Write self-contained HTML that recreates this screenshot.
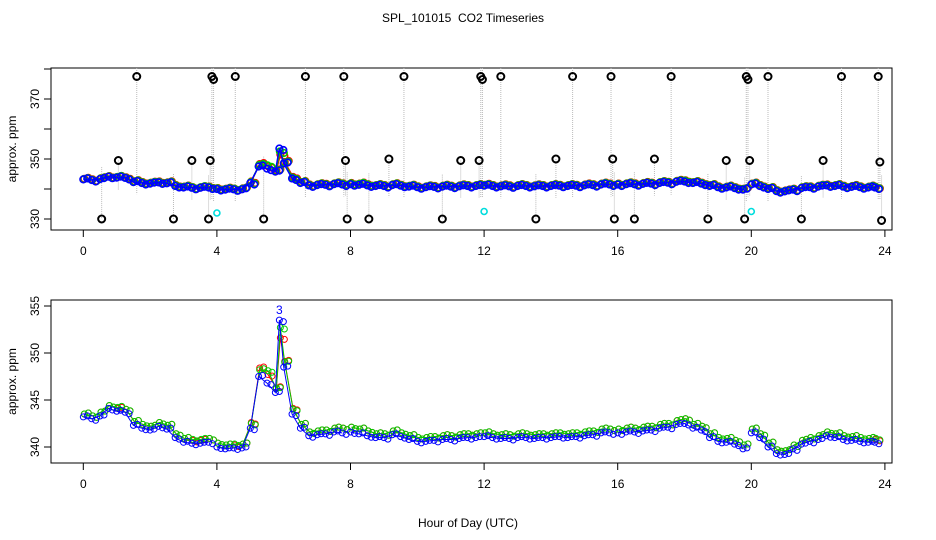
<!DOCTYPE html>
<html><head><meta charset="utf-8"><style>
body{margin:0;background:#fff}
svg{display:block;font-family:"Liberation Sans",sans-serif}
</style></head><body>
<svg id="c" width="936" height="540" viewBox="0 0 936 540">
<text x="463" y="22" font-size="12" text-anchor="middle">SPL_101015&#160; CO2 Timeseries</text>
<text x="468" y="527" font-size="12" text-anchor="middle">Hour of Day (UTC)</text>
<g id="top"></g>
<g id="bot"></g>
</svg>
<script>
const hours = [0,0.25,0.5,0.75,1,1.25,1.5,1.75,2,2.25,2.5,2.75,3,3.25,3.5,3.75,null,4,4.25,4.5,4.75,5,5.25,5.5,5.75,5.87,6,6.25,6.5,6.75,7,7.25,7.5,7.75,null,8,8.25,8.5,8.75,9,9.25,9.5,9.75,10,10.25,10.5,10.75,11,11.25,11.5,11.75,null,12,12.25,12.5,12.75,13,13.25,13.5,13.75,14,14.25,14.5,14.75,15,15.25,15.5,15.75,null,16,16.25,16.5,16.75,17,17.25,17.5,17.75,18,18.25,18.5,18.75,19,19.25,19.5,19.75,null,20,20.25,20.5,20.75,21,21.25,21.5,21.75,22,22.25,22.5,22.75,23,23.25,23.5,23.7];
const blue = [343.2,343.0,343.3,344.1,343.8,343.7,342.3,342.0,341.8,342.2,341.9,341.0,340.5,340.4,340.4,340.5,null,340.0,339.8,339.9,339.9,342.0,347.5,346.8,345.8,353.5,348.5,343.5,342.0,341.2,341.3,341.4,341.6,341.5,null,341.6,341.4,341.2,341.0,341.0,341.3,341.1,340.8,340.6,340.6,340.7,340.8,340.8,340.9,341.0,341.0,null,341.1,341.0,340.9,340.9,341.0,341.0,340.9,341.0,341.0,341.1,341.0,341.1,341.2,341.3,341.5,341.5,null,341.5,341.6,341.6,341.7,341.8,342.0,342.1,342.4,342.5,342.0,341.8,341.0,340.6,340.5,340.3,339.8,null,341.5,341.0,340.0,339.3,339.2,339.8,340.3,340.6,340.8,341.2,341.0,340.8,340.7,340.6,340.5,340.5];
const red = [343.4,343.2,343.6,344.3,344.0,343.9,342.6,342.3,342.1,342.5,342.2,341.3,340.8,340.6,340.6,340.8,null,340.3,340.1,340.1,340.2,342.5,348.3,347.6,346.2,351.5,349.0,344.0,342.3,341.5,341.6,341.7,341.9,341.9,null,342.0,341.8,341.6,341.3,341.3,341.6,341.4,341.1,340.9,340.9,341.0,341.1,341.1,341.2,341.3,341.3,null,341.4,341.3,341.2,341.2,341.3,341.3,341.2,341.3,341.3,341.4,341.3,341.4,341.5,341.6,341.8,341.8,null,341.8,341.9,341.9,342.0,342.1,342.3,342.4,342.7,342.9,342.3,342.1,341.3,340.9,340.8,340.6,340.1,null,341.8,341.3,340.3,339.6,339.5,340.1,340.6,340.9,341.1,341.5,341.3,341.1,341.0,340.9,340.8,340.7];
const green = [343.3,343.1,343.5,344.2,344.0,343.8,342.5,342.2,342.0,342.4,342.1,341.2,340.7,340.6,340.6,340.7,null,340.2,340.0,340.1,340.1,342.3,348.0,347.9,346.0,352.5,348.8,343.8,342.2,341.4,341.5,341.6,341.8,341.8,null,341.9,341.7,341.5,341.2,341.2,341.5,341.3,341.0,340.8,340.8,340.9,341.0,341.0,341.1,341.2,341.2,null,341.3,341.2,341.1,341.1,341.2,341.2,341.1,341.2,341.2,341.3,341.2,341.3,341.4,341.5,341.7,341.7,null,341.7,341.8,341.8,341.9,342.0,342.2,342.3,342.6,342.8,342.2,342.0,341.2,340.8,340.7,340.5,340.0,null,341.7,341.2,340.2,339.5,339.4,340.0,340.5,340.8,341.0,341.4,341.2,341.0,340.9,340.8,340.7,340.7];
const outlierHours = [0.55,1.05,1.6,2.7,3.25,3.75,3.8,3.85,3.9,4.55,5.4,6.65,7.8,7.85,7.9,8.55,9.15,9.6,10.75,11.3,11.85,11.9,11.95,12.5,13.55,14.15,14.65,15.8,15.85,15.9,16.5,17.1,17.6,18.7,19.25,19.8,19.85,19.9,19.95,20.5,21.5,22.15,22.7,23.8,23.85,23.9];
const outlierVals = [330,349.5,377.5,330,349.5,330,349.5,377.5,376.5,377.5,330,377.5,377.5,349.5,330,330,350,377.5,330,349.5,349.5,377.5,376.5,377.5,330,350,377.5,377.5,350,330,330,350,377.5,330,349.5,330,377.5,376.5,349.5,377.5,330,349.5,377.5,377.5,349,329.5];
const calHours = [4.0,12.0,20.0];
const calVals = [332,332.5,332.5];
const xTicks = [0,4,8,12,16,20,24];
const topTicks = [330,340,350,360,370,380];
const topLabels = [330,350,370];
const botTicks = [340,345,350,355];

const NS="http://www.w3.org/2000/svg";
function mk(p,t,a){const e=document.createElementNS(NS,t);for(const k in a)e.setAttribute(k,a[k]);p.appendChild(e);return e;}
const L=51,R=892;
const xs=h=>83.3+h*33.4;
const yTop=v=>219-(v-330)*3;
const yBot=v=>447-(v-340)*9.4;

function axes(g,top,bot,ticks,labels,ys,nm){
  let e=mk(g,'rect',{x:L,y:top,width:R-L,height:bot-top,fill:'none',stroke:'#000'});
  
  xTicks.forEach(h=>{
    mk(g,'line',{x1:xs(h),x2:xs(h),y1:bot,y2:bot+7,stroke:'#000'});
    let t=mk(g,'text',{x:xs(h),y:bot+25,'font-size':12,'text-anchor':'middle'});t.textContent=h;
    
  });
  ticks.forEach(v=>{mk(g,'line',{x1:L-7,x2:L,y1:ys(v),y2:ys(v),stroke:'#000'});});
  labels.forEach(v=>{
    let t=mk(g,'text',{x:0,y:0,'font-size':12,'text-anchor':'middle',transform:`translate(${L-12},${ys(v)}) rotate(-90)`});t.textContent=v;
    
  });
  let yt=mk(g,'text',{x:0,y:0,'font-size':12,'text-anchor':'middle',transform:`translate(16,${(top+bot)/2}) rotate(-90)`});yt.textContent='approx. ppm';
  
}
const tg=document.getElementById('top'),bg=document.getElementById('bot');
axes(tg,68,230,topTicks,topLabels,yTop,'top');
axes(bg,300,463,botTicks,botTicks,yBot,'bottom');

const clipT=mk(tg,'clipPath',{id:'ct'});mk(clipT,'rect',{x:L,y:68,width:R-L,height:162});
const tgc=mk(tg,'g',{'clip-path':'url(#ct)'});
function baseAt(h){let bi=0,bd=1e9;hours.forEach((x,i)=>{if(x!==null&&Math.abs(x-h)<bd){bd=Math.abs(x-h);bi=i;}});return blue[bi];}
outlierHours.forEach((h,i)=>{
  const v=outlierVals[i],b=baseAt(h);
  const y1=v>370?60:yTop(Math.max(v,b+4)),y2=yTop(Math.min(v,b-4));
  let l=mk(tgc,'line',{x1:xs(h),x2:xs(h),y1:y1,y2:y2,stroke:'#bbb','stroke-dasharray':'1,1'});
  
});
function series(g,vals,ys,col,r,dx,dy,nm,lw,cw,dbl){
  let d='',pen=false;
  hours.forEach((h,i)=>{if(h===null||vals[i]===null){pen=false;return;}d+=(pen?'L':'M')+(xs(h)+dx)+','+(ys(vals[i])+dy);pen=true;});
  let p=mk(g,'path',{d:d,fill:'none',stroke:col,'stroke-width':lw});
  
  hours.forEach((h,i)=>{if(h===null||vals[i]===null)return;
    let c=mk(g,'circle',{cx:xs(h)+dx,cy:ys(vals[i])+dy,r:r,fill:'none',stroke:col,'stroke-width':cw});
    
    if(dbl){let c2=mk(g,'circle',{cx:xs(h)+dx+4,cy:ys(vals[i])+dy+(i%2?1.5:-1),r:r,fill:'none',stroke:col,'stroke-width':cw});
      }
  });
}
series(tgc,red,yTop,'#f00',3.3,1,0,'top-red',1.5,1.6,true);
series(tgc,green,yTop,'#0c0',3.3,0.5,0,'top-green',1.5,1.6,true);
series(tgc,blue,yTop,'#00f',3.3,0,0,'top-blue',1.5,1.6,true);
outlierHours.forEach((h,i)=>{
  let c=mk(tgc,'circle',{cx:xs(h),cy:yTop(outlierVals[i]),r:3.5,fill:'none',stroke:'#000','stroke-width':2});
  
});
calHours.forEach((h,i)=>{
  let c=mk(tgc,'circle',{cx:xs(h),cy:yTop(calVals[i]),r:3,fill:'none',stroke:'#0dd','stroke-width':1.6});
  
});
series(bg,red,yBot,'#f00',3,1,-1,'bottom-red',1,1,true);
series(bg,green,yBot,'#0c0',3,1,-2,'bottom-green',1,1,true);
series(bg,blue,yBot,'#00f',3,0,0,'bottom-blue',1,1,true);
let pk=mk(bg,'text',{x:xs(5.87),y:yBot(353.5)-6,'font-size':12,fill:'#00f','text-anchor':'middle'});pk.textContent='3';

</script>
</body></html>
